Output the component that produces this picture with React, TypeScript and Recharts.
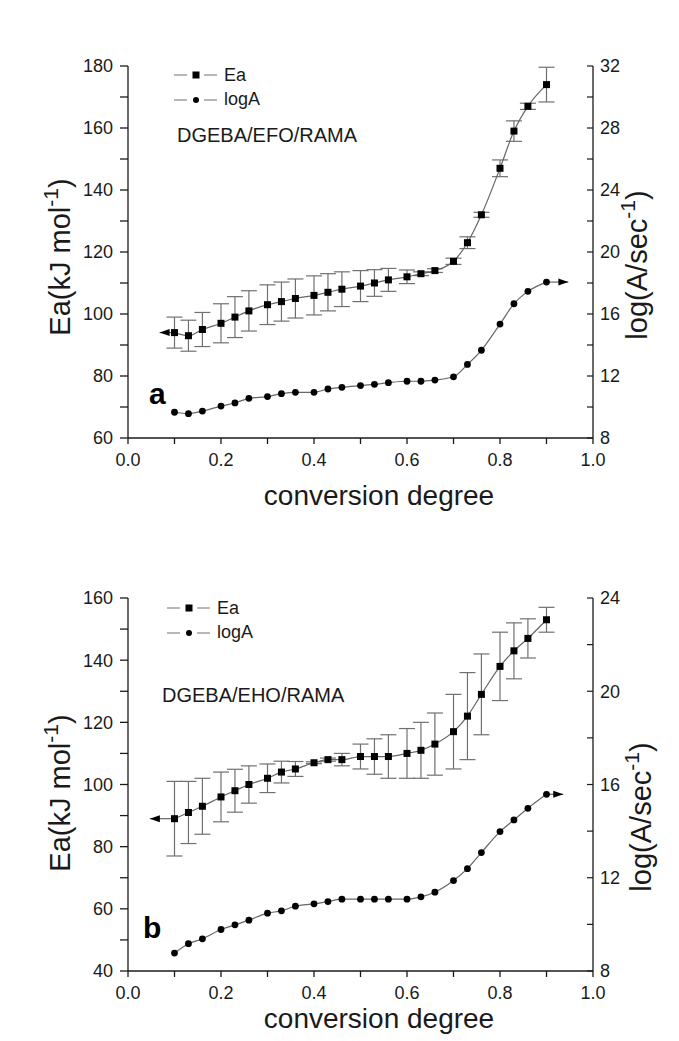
import React from "react";
import {
  ErrorBar,
  Legend,
  Line,
  LineChart,
  ReferenceDot,
  ReferenceLine,
  XAxis,
  YAxis,
} from "recharts";

const FONT = '"Liberation Sans", Arial, sans-serif';
const INK = "#1a1a1a";
const CURVE = "#666";

// conversion degree (shared by both panels)
const conv = [
  0.1, 0.13, 0.16, 0.2, 0.23, 0.26, 0.3, 0.33, 0.36, 0.4, 0.43, 0.46, 0.5,
  0.53, 0.56, 0.6, 0.63, 0.66, 0.7, 0.73, 0.76, 0.8, 0.83, 0.86, 0.9,
];

// panel a: DGEBA/EFO/RAMA
const eaA = [
  94, 93, 95, 97, 99, 101, 103, 104, 105, 106, 107, 108, 109, 110, 111, 112,
  113, 114, 117, 123, 132, 147, 159, 167, 174,
];
const eaErrA = [
  5, 5, 5.5, 6.3, 6.6, 6.5, 6.4, 6.3, 6.3, 6.3, 6, 5.6, 5, 4.3, 3.7, 2.2, 0.6,
  0.6, 1, 1.9, 0.8, 2.7, 3.3, 1, 5.6,
];
const logAA = [
  9.66, 9.57, 9.74, 10.06, 10.26, 10.56, 10.67, 10.86, 10.95, 10.95, 11.16,
  11.27, 11.38, 11.46, 11.57, 11.66, 11.66, 11.74, 11.95, 12.75, 13.66, 15.35,
  16.66, 17.46, 18.06,
];
const arrowTipsA = [0.068, 0.947];

// panel b: DGEBA/EHO/RAMA
const eaB = [
  89, 91, 93, 96, 98, 100, 102, 104, 105, 107, 108, 108, 109, 109, 109, 110,
  111, 113, 117, 122, 129, 138, 143, 147, 153,
];
const eaErrB = [
  12, 10, 9, 8, 6.9, 6, 4.6, 3.5, 2.4, 0.3, 0.5, 2, 4, 5.7, 7, 8, 9, 10, 12,
  14, 13, 11, 9, 6.3, 4,
];
const logAB = [
  8.77, 9.17, 9.38, 9.78, 9.98, 10.18, 10.48, 10.58, 10.78, 10.88, 10.98,
  11.08, 11.08, 11.08, 11.08, 11.08, 11.18, 11.38, 11.88, 12.39, 13.08, 13.98,
  14.48, 14.98, 15.58,
];
const arrowTipsB = [0.047, 0.936];

const seriesNames = ["Ea", "logA"];

const xTicks = [0, 0.1, 0.2, 0.3, 0.4, 0.5, 0.6, 0.7, 0.8, 0.9, 1];
const eaTicksA = [60, 70, 80, 90, 100, 110, 120, 130, 140, 150, 160, 170, 180];
const logTicksA = [8, 10, 12, 14, 16, 18, 20, 22, 24, 26, 28, 30, 32];
const eaTicksB = [40, 50, 60, 70, 80, 90, 100, 110, 120, 130, 140, 150, 160];
const logTicksB = [8, 10, 12, 14, 16, 18, 20, 22, 24];

const build = (ea: number[], err: number[], logA: number[]) =>
  conv.map((c, i) => ({ c, ea: ea[i], err: err[i], logA: logA[i] }));

const fmtX = (v: number) => (Math.round(v * 10) % 2 === 0 ? v.toFixed(1) : "");
const fmtEa = (v: number) => (v % 20 === 0 ? String(v) : "");

const squareDot = (p: any) => (
  <rect key={`s${p.index}`} x={p.cx - 3.5} y={p.cy - 3.5} width={7} height={7} fill="#000" />
);
const roundDot = (p: any) => (
  <circle key={`c${p.index}`} cx={p.cx} cy={p.cy} r={3.4} fill="#000" />
);

const arrowHead = (dir: number) => (p: any) => (
  <polygon
    points={`${p.cx},${p.cy} ${p.cx - dir * 10},${p.cy - 3.5} ${p.cx - dir * 10},${p.cy + 3.5}`}
    fill="#000"
  />
);

const rightTick = (p: any) => {
  const v = p.payload.value;
  const ax = p.x - 7;
  return (
    <g>
      <line x1={ax - 6} x2={ax} y1={p.y} y2={p.y} stroke={INK} strokeWidth={1.2} />
      {v % 4 === 0 && (
        <text x={p.x} y={p.y} dy="0.355em" textAnchor="start" fontSize={18} fontFamily={FONT} fill={INK}>
          {v}
        </text>
      )}
    </g>
  );
};

function LegendBox() {
  return (
    <div style={{ fontFamily: FONT, fontSize: 18, color: INK }}>
      {seriesNames.map((name, i) => (
        <div key={name} style={{ display: "flex", alignItems: "center", height: 24.5 }}>
          <svg width={44} height={12} style={{ marginRight: 6 }}>
            <line x1={0} x2={13} y1={6} y2={6} stroke="#888" strokeWidth={1.2} />
            <line x1={30} x2={43} y1={6} y2={6} stroke="#888" strokeWidth={1.2} />
            {i === 0 ? (
              <rect x={18.5} y={2.5} width={7} height={7} fill="#000" />
            ) : (
              <circle cx={22} cy={6} r={3} fill="#000" />
            )}
          </svg>
          <span>{name}</span>
        </div>
      ))}
    </div>
  );
}

type PanelProps = {
  top: number;
  height: number;
  marginTop: number;
  marginBottom: number;
  ea: number[];
  err: number[];
  logA: number[];
  eaTicks: number[];
  logTicks: number[];
  tips: number[];
  legendLeft: number;
  legendTop: number;
  name: string;
  nameLeft: number;
  nameTop: number;
  letter: string;
  letterLeft: number;
  letterTop: number;
  xTitleY: number;
  leftTitle: number[];
  rightTitle: number[];
};

function Panel(p: PanelProps) {
  const data = build(p.ea, p.err, p.logA);
  const n = data.length - 1;
  return (
    <div style={{ position: "absolute", left: 0, top: p.top, width: 679, height: p.height }}>
      <LineChart
        width={679}
        height={p.height}
        data={data}
        margin={{ top: p.marginTop, right: 36, left: 58, bottom: p.marginBottom }}
      >
        <XAxis
          dataKey="c"
          type="number"
          domain={[0, 1]}
          ticks={xTicks}
          interval={0}
          tickFormatter={fmtX}
          tickSize={6}
          tickMargin={9}
          height={40}
          stroke={INK}
          strokeWidth={1.3}
          tick={{ fill: INK, fontSize: 18, fontFamily: FONT }}
          label={{
            content: () => (
              <text x={379} y={p.xTitleY} textAnchor="middle" fontSize={28} fontFamily={FONT} fill={INK}>
                conversion degree
              </text>
            ),
          }}
        />
        <YAxis
          yAxisId="ea"
          domain={[p.eaTicks[0], p.eaTicks[p.eaTicks.length - 1]]}
          ticks={p.eaTicks}
          interval={0}
          tickFormatter={fmtEa}
          width={70}
          tickSize={8}
          tickMargin={7}
          stroke={INK}
          strokeWidth={1.3}
          tick={{ fill: INK, fontSize: 18, fontFamily: FONT }}
          label={{
            content: () => (
              <text
                x={p.leftTitle[0]}
                y={p.leftTitle[1]}
                transform={`rotate(-90 ${p.leftTitle[0]} ${p.leftTitle[1]})`}
                textAnchor="middle"
                fontSize={29}
                fontFamily={FONT}
                fill={INK}
              >
                Ea(kJ mol
                <tspan dy={-12} fontSize={21}>-1</tspan>
                <tspan dy={12}>)</tspan>
              </text>
            ),
          }}
        />
        <YAxis
          yAxisId="logA"
          orientation="right"
          domain={[p.logTicks[0], p.logTicks[p.logTicks.length - 1]]}
          ticks={p.logTicks}
          interval={0}
          width={50}
          tickSize={0}
          tickMargin={7}
          tickLine={false}
          stroke={INK}
          strokeWidth={1.3}
          tick={rightTick}
          label={{
            content: () => (
              <text
                x={p.rightTitle[0]}
                y={p.rightTitle[1]}
                transform={`rotate(-90 ${p.rightTitle[0]} ${p.rightTitle[1]})`}
                textAnchor="middle"
                fontSize={29}
                fontFamily={FONT}
                fill={INK}
              >
                log(A/sec
                <tspan dy={-12} fontSize={21}>-1</tspan>
                <tspan dy={12}>)</tspan>
              </text>
            ),
          }}
        />
        <Legend
          layout="vertical"
          align="center"
          verticalAlign="middle"
          content={() => <LegendBox />}
          wrapperStyle={{ left: p.legendLeft, top: p.legendTop, width: "auto" }}
        />
        <ReferenceLine
          yAxisId="ea"
          segment={[
            { x: p.tips[0], y: p.ea[0] },
            { x: conv[0], y: p.ea[0] },
          ]}
          stroke={CURVE}
          strokeWidth={1.2}
        />
        <ReferenceDot yAxisId="ea" x={p.tips[0]} y={p.ea[0]} shape={arrowHead(-1)} />
        <ReferenceLine
          yAxisId="logA"
          segment={[
            { x: conv[n], y: p.logA[n] },
            { x: p.tips[1], y: p.logA[n] },
          ]}
          stroke={CURVE}
          strokeWidth={1.2}
        />
        <ReferenceDot yAxisId="logA" x={p.tips[1]} y={p.logA[n]} shape={arrowHead(1)} />
        <Line
          yAxisId="ea"
          dataKey="ea"
          name="Ea"
          type="monotone"
          stroke={CURVE}
          strokeWidth={1.2}
          dot={squareDot}
          activeDot={false}
          isAnimationActive={false}
        >
          <ErrorBar dataKey="err" width={8} stroke="#707070" strokeWidth={1.2} direction="y" isAnimationActive={false} />
        </Line>
        <Line
          yAxisId="logA"
          dataKey="logA"
          name="logA"
          type="monotone"
          stroke={CURVE}
          strokeWidth={1.2}
          dot={roundDot}
          activeDot={false}
          isAnimationActive={false}
        />
      </LineChart>
      <div
        style={{
          position: "absolute",
          left: p.nameLeft,
          top: p.nameTop,
          fontFamily: FONT,
          fontSize: 20,
          lineHeight: "20px",
          color: INK,
          whiteSpace: "nowrap",
        }}
      >
        {p.name}
      </div>
      <div
        style={{
          position: "absolute",
          left: p.letterLeft,
          top: p.letterTop,
          fontFamily: FONT,
          fontSize: 30,
          fontWeight: "bold",
          lineHeight: "30px",
          color: "#000",
        }}
      >
        {p.letter}
      </div>
    </div>
  );
}

export default function App() {
  return (
    <div style={{ position: "absolute", left: 0, top: 0, width: 679, height: 1041, background: "#fff" }}>
      <Panel
        top={0}
        height={520}
        marginTop={66}
        marginBottom={42}
        ea={eaA}
        err={eaErrA}
        logA={logAA}
        eaTicks={eaTicksA}
        logTicks={logTicksA}
        tips={arrowTipsA}
        legendLeft={174}
        legendTop={63}
        name="DGEBA/EFO/RAMA"
        nameLeft={177}
        nameTop={125}
        letter="a"
        letterLeft={149}
        letterTop={379}
        xTitleY={505}
        leftTitle={[70, 257]}
        rightTitle={[647, 265]}
      />
      <Panel
        top={520}
        height={521}
        marginTop={78}
        marginBottom={30}
        ea={eaB}
        err={eaErrB}
        logA={logAB}
        eaTicks={eaTicksB}
        logTicks={logTicksB}
        tips={arrowTipsB}
        legendLeft={167}
        legendTop={76}
        name="DGEBA/EHO/RAMA"
        nameLeft={162}
        nameTop={165}
        letter="b"
        letterLeft={143}
        letterTop={393}
        xTitleY={508}
        leftTitle={[70, 273]}
        rightTitle={[651, 297]}
      />
    </div>
  );
}
